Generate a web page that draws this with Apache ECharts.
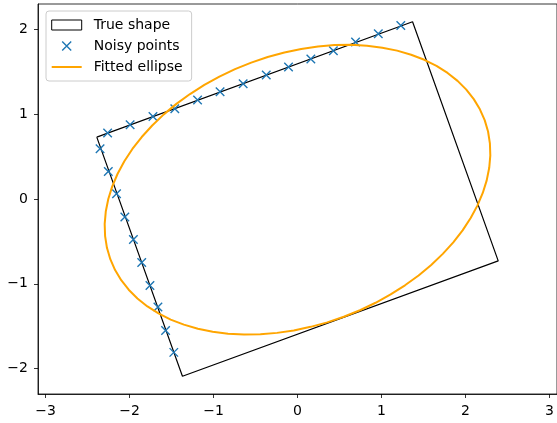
<!DOCTYPE html>
<html>
<head>
<meta charset="utf-8">
<script src="https://cdn.jsdelivr.net/npm/echarts@6/dist/echarts.min.js"></script>
<style>
html,body{margin:0;padding:0;background:#fff;}
#main{width:557px;height:423px;}
</style>
</head>
<body>
<div id="main"></div>
<script>
// true shape: rotated rectangle corners (closed)
var shapeX = [-2.39, 1.37, 2.39, -1.37, -2.39];
var shapeY = [0.73, 2.09, -0.73, -2.09, 0.73];

// noisy points, top edge then left edge
var pointsX = [-2.261, -1.993, -1.721, -1.461, -1.190, -0.922, -0.647, -0.372, -0.107, 0.159, 0.427, 0.691, 0.962, 1.230,
               -2.351, -2.253, -2.155, -2.056, -1.954, -1.855, -1.757, -1.662, -1.571, -1.473];
var pointsY = [0.778, 0.876, 0.974, 1.065, 1.167, 1.265, 1.360, 1.462, 1.557, 1.651, 1.749, 1.851, 1.949, 2.047,
               0.593, 0.325, 0.063, -0.212, -0.479, -0.750, -1.019, -1.274, -1.550, -1.809];

// fitted ellipse outline, read around the curve
var ellipseX = [2.229, 2.172, 2.099, 2.010, 1.906, 1.787, 1.655, 1.510, 1.353, 1.186, 1.010, 0.827, 0.637, 0.442, 0.244, 0.044,
                -0.156, -0.355, -0.551, -0.744, -0.930, -1.109, -1.280, -1.442, -1.592, -1.730, -1.855, -1.966, -2.062, -2.142,
                -2.206, -2.253, -2.283, -2.296, -2.291, -2.269, -2.229, -2.172, -2.099, -2.010, -1.906, -1.787, -1.655, -1.510,
                -1.353, -1.186, -1.010, -0.827, -0.637, -0.442, -0.244, -0.044, 0.156, 0.355, 0.551, 0.744, 0.930, 1.109,
                1.280, 1.442, 1.592, 1.730, 1.855, 1.966, 2.062, 2.142, 2.206, 2.253, 2.283, 2.296, 2.291, 2.269, 2.229];
var ellipseY = [0.930, 1.058, 1.178, 1.290, 1.393, 1.487, 1.570, 1.642, 1.702, 1.750, 1.785, 1.808, 1.818, 1.815, 1.799, 1.770,
                1.728, 1.675, 1.609, 1.532, 1.444, 1.346, 1.238, 1.122, 0.998, 0.867, 0.731, 0.590, 0.445, 0.298,
                0.149, 0.000, -0.148, -0.294, -0.437, -0.576, -0.710, -0.838, -0.958, -1.070, -1.173, -1.267, -1.350, -1.422,
                -1.482, -1.530, -1.565, -1.588, -1.598, -1.595, -1.579, -1.550, -1.508, -1.455, -1.389, -1.312, -1.224, -1.126,
                -1.018, -0.902, -0.778, -0.647, -0.511, -0.370, -0.225, -0.078, 0.071, 0.220, 0.368, 0.514, 0.657, 0.796, 0.930];

var xTicks = [-3, -2, -1, 0, 1, 2, 3];
var yTicks = [-2, -1, 0, 1, 2];

function pairs(xs, ys){
	var out = [];
	for(var i=0;i<xs.length;i++){ out.push([xs[i], ys[i]]); }
	return out;
}
function minusFmt(v){
	return String(v).replace('-', '\u2212');
}

var FONT = 'DejaVu Sans';
var xMark = 'path://M0,0L10,10M10,0L0,10';
var xMarkLegend = 'path://M0,0L0,0M30,10L30,10M10.5,0.5L19.5,9.5M19.5,0.5L10.5,9.5';
var lineLegend = 'path://M0,0L0,0M30,10L30,10M0,4L30,4L30,6L0,6Z';

var chart = echarts.init(document.getElementById('main'), null, {renderer:'canvas'});
var option = {
	animation:false,
	backgroundColor:'#fff',
	textStyle:{fontFamily:FONT},
	grid:{
		left:38, top:4, width:523.5, height:390,
		show:true, borderColor:'#000', borderWidth:0.8, backgroundColor:'transparent'
	},
	legend:{
		orient:'vertical',
		left:46, top:11,
		padding:[6,9,6,5],
		itemWidth:30, itemHeight:10, itemGap:5,
		borderColor:'#cccccc', borderWidth:1, borderRadius:3,
		backgroundColor:'rgba(255,255,255,0.8)',
		selectedMode:false,
		textStyle:{fontFamily:FONT, fontSize:14, color:'#000', lineHeight:16, padding:[0,0,0,7]},
		data:[
			{name:'True shape', icon:'rect', itemStyle:{color:'#fff', borderColor:'#000', borderWidth:1}},
			{name:'Noisy points', icon:xMarkLegend, itemStyle:{color:'#1f77b4', borderColor:'#1f77b4', borderWidth:1.4}},
			{name:'Fitted ellipse', icon:lineLegend, itemStyle:{color:'#ffa500', borderWidth:0}}
		]
	},
	xAxis:{
		type:'value', min:-3.09, max:3.09,
		axisLine:{show:true, onZero:false, lineStyle:{color:'#000', width:0.8}},
		axisTick:{show:true, length:4, customValues:xTicks, lineStyle:{color:'#000', width:0.8}},
		axisLabel:{customValues:xTicks, formatter:minusFmt, fontFamily:FONT, fontSize:14, color:'#000', margin:10},
		splitLine:{show:false}
	},
	yAxis:{
		type:'value', min:-2.3, max:2.3,
		axisLine:{show:true, onZero:false, lineStyle:{color:'#000', width:0.8}},
		axisTick:{show:true, length:4, customValues:yTicks, lineStyle:{color:'#000', width:0.8}},
		axisLabel:{customValues:yTicks, formatter:minusFmt, fontFamily:FONT, fontSize:14, color:'#000', margin:10},
		splitLine:{show:false}
	},
	series:[
		{
			name:'True shape', type:'line', data:pairs(shapeX, shapeY),
			symbol:'none', lineStyle:{color:'#000', width:1.2}, itemStyle:{color:'#000'}, z:1
		},
		{
			name:'Noisy points', type:'scatter', data:pairs(pointsX, pointsY),
			symbol:xMark, symbolSize:8.5,
			itemStyle:{color:'#1f77b4', borderColor:'#1f77b4', borderWidth:1.4, opacity:1}, z:2
		},
		{
			name:'Fitted ellipse', type:'line', data:pairs(ellipseX, ellipseY),
			symbol:'none', showSymbol:false, lineStyle:{color:'#ffa500', width:2, join:'round'}, itemStyle:{color:'#ffa500'}, z:3
		}
	]
};
chart.setOption(option);
</script>
</body>
</html>
